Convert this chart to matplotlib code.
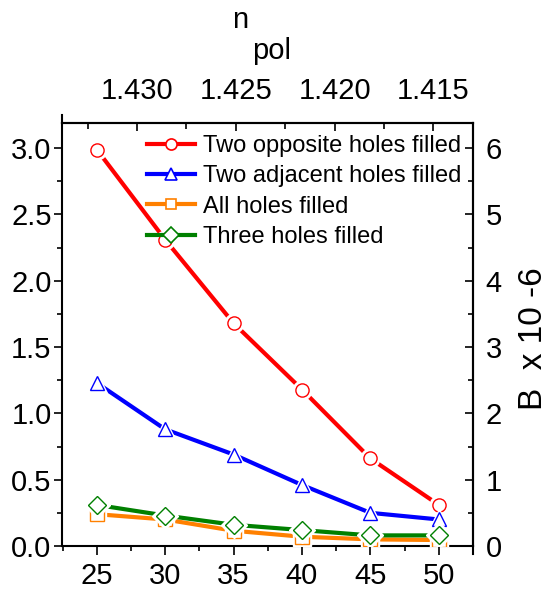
import matplotlib
matplotlib.use("Agg")
import matplotlib.pyplot as plt
from matplotlib.lines import Line2D

plt.rcParams['font.family'] = ['Liberation Sans', 'DejaVu Sans']

x = [25, 30, 35, 40, 45, 50]
opposite = [2.99, 2.31, 1.68, 1.18, 0.66, 0.31]
adjacent = [1.23, 0.88, 0.69, 0.46, 0.25, 0.20]
all_filled = [0.24, 0.20, 0.115, 0.07, 0.05, 0.045]
three = [0.31, 0.23, 0.16, 0.12, 0.08, 0.08]

labels = ["Two opposite holes filled", "Two adjacent holes filled",
          "All holes filled", "Three holes filled"]
series = [opposite, adjacent, all_filled, three]
colors = ["#ff0000", "#0000ff", "#ff8000", "#008000"]
markers = ["o", "^", "s", "D"]
msizes = [9.5, 10.5, 9.5, 9]
leg_msizes = [8, 9, 7.5, 8.5]

top_ticks = [1.430, 1.425, 1.420, 1.415]

fig = plt.figure(figsize=(5.48, 5.92), dpi=100)
ax = fig.add_axes([62/548, 1-546/592, (473-62)/548, (546-123)/592])

for i, (y, c, m, ms, lab) in enumerate(zip(series, colors, markers, msizes, labels)):
    z = 2 + i * 3
    ax.plot(x, y, color=c, lw=3, zorder=z, solid_capstyle='butt')
    ax.plot(x, y, ls='none', marker=m, ms=ms + 4, mfc='white', mec='white', zorder=z + 1)
    ax.plot(x, y, ls='none', marker=m, ms=ms, mfc='white', mec=c, mew=1.0, zorder=z + 2)

handles = [Line2D([], [], color=c, lw=3, marker=m, ms=ms, mfc='white', mec=c, mew=1.2)
           for c, m, ms in zip(colors, markers, leg_msizes)]
ax.legend(handles, labels, loc='upper left', bbox_to_anchor=((147-62)/411, (546-135)/423),
          frameon=False, fontsize=17, handlelength=2.03, handletextpad=0.34,
          labelspacing=0.35, borderaxespad=0.0, borderpad=0.0)

ax.set_xlim(22.46, 52.5)
ax.set_ylim(0, 3.19)
ax.set_xticks(x)
ax.set_xticks([22.5 + 5 * k for k in range(7)], minor=True)
ax.set_yticks([0, 0.5, 1.0, 1.5, 2.0, 2.5, 3.0])
ax.set_yticklabels(["0.0", "0.5", "1.0", "1.5", "2.0", "2.5", "3.0"])
ax.set_yticks([0.25, 0.75, 1.25, 1.75, 2.25, 2.75], minor=True)

for s in ax.spines.values():
    s.set_linewidth(1.5)

ax.tick_params(axis='both', which='both', labelsize=21, width=1.2)
ax.tick_params(axis='y', which='major', direction='out', length=6, pad=1.5)
ax.tick_params(axis='y', which='minor', direction='out', length=3.5)
ax.tick_params(axis='x', which='major', direction='out', length=6.5, pad=5)
ax.tick_params(axis='x', which='minor', direction='out', length=3.5)

# right axis: B x 10^-6 (twice the left scale)
axr = ax.secondary_yaxis('right', functions=(lambda v: 2 * v, lambda v: v / 2))
axr.set_yticks([0, 1, 2, 3, 4, 5, 6])
axr.set_yticks([0.5, 1.5, 2.5, 3.5, 4.5, 5.5], minor=True)
axr.spines['right'].set_linewidth(1.5)
axr.tick_params(which='both', direction='in', labelsize=21, width=1.2)
axr.tick_params(which='major', length=6, pad=9)
axr.tick_params(which='minor', length=3.5)
fig.text(533/548, 1-339/592, "B  x 10 -6", rotation=90, fontsize=24,
         ha='center', va='center')

# top axis: n_pol
n_left, n_right = 1.4338, 1.4130
x0, x1 = 22.46, 52.5
k = (n_right - n_left) / (x1 - x0)
axt = ax.secondary_xaxis('top', functions=(lambda v: n_left + (v - x0) * k,
                                            lambda n: x0 + (n - n_left) / k))
axt.set_xticks(top_ticks)
axt.set_xticklabels(["%.3f" % t for t in top_ticks])
axt.set_xticks([1.4325, 1.4275, 1.4225, 1.4175], minor=True)
axt.spines['top'].set_linewidth(1.5)
axt.tick_params(which='both', direction='in', labelsize=21, width=1.2)
axt.tick_params(which='major', length=6, pad=13)
axt.tick_params(which='minor', length=4)
fig.text(240/548, 1-20/592, "n", fontsize=21, ha='center', va='center')
fig.text(272/548, 1-51/592, "pol", fontsize=21, ha='center', va='center')

# small spine extensions (Origin style)
ax.plot([0, 0], [1, 1 + 8/423], transform=ax.transAxes, color='black', lw=1.5, clip_on=False)
ax.plot([1, 1], [0, -8/423], transform=ax.transAxes, color='black', lw=1.5, clip_on=False)

fig.savefig("out.png", dpi=100)
